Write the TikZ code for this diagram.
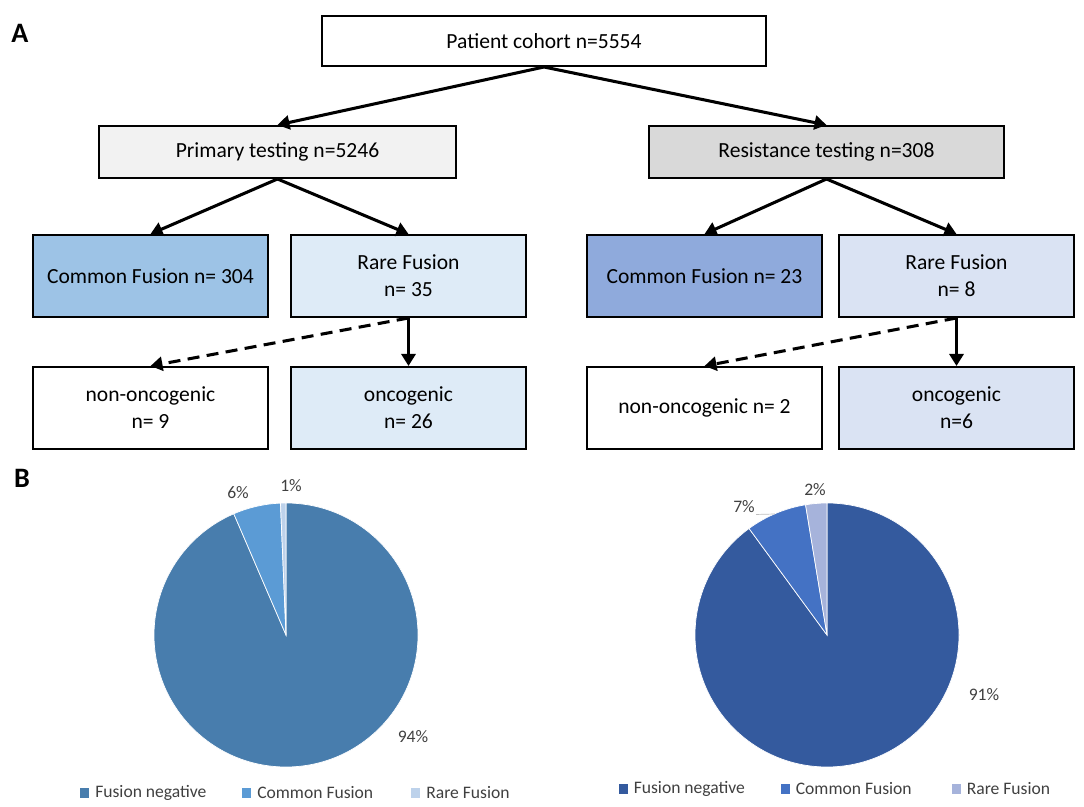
\documentclass[tikz,border=0pt]{standalone}
\usepackage{fontspec}
\setmainfont{Carlito}
\usepackage{xcolor}
\usetikzlibrary{arrows.meta}
\usetikzlibrary{positioning}

\definecolor{primfill}{HTML}{F2F2F2}
\definecolor{resfill}{HTML}{D9D9D9}
\definecolor{pcomfill}{HTML}{9DC3E6}
\definecolor{prarefill}{HTML}{DEEBF7}
\definecolor{rcomfill}{HTML}{8FAADC}
\definecolor{rrarefill}{HTML}{DAE3F3}
\definecolor{pneg}{HTML}{487DAD}
\definecolor{pcom}{HTML}{5B9BD5}
\definecolor{prare}{HTML}{BDD2EB}
\definecolor{rneg}{HTML}{345A9E}
\definecolor{rcom}{HTML}{4472C4}
\definecolor{rrare}{HTML}{A6B3DB}
\definecolor{charttext}{HTML}{404040}

\begin{document}
\begin{tikzpicture}[x=0.03cm,y=0.03cm,
          box/.style={draw=black,line width=1.7pt,align=center,inner sep=2pt,
            font=\fontsize{18.4}{23}\selectfont},
          small/.style={box,minimum width=7.05cm,minimum height=2.46cm},
          flow/.style={-{Triangle[length=0.36cm,width=0.42cm]},line width=2.6pt},
          weak/.style={flow,dash pattern=on 0.36cm off 0.22cm},
          panel/.style={font=\fontsize{24}{27}\selectfont\bfseries},
          pct/.style={text=charttext,inner sep=1pt,font=\fontsize{15}{17}\selectfont},
          key/.style={minimum size=0.27cm,inner sep=0pt},
          keytext/.style={text=charttext,inner sep=0pt,anchor=west,font=\fontsize{15}{17}\selectfont},
          slice/.style={draw=white,line width=0.6pt}]
  \useasboundingbox (0,0) rectangle (1084,806);

  % A: flow chart
  \node[panel] (lblA) at (20,773) {A};
  \node[box,minimum width=13.32cm,minimum height=1.5cm] (cohort) at (544,765) {Patient cohort n=5554};
  \node[box,fill=primfill,minimum width=10.71cm,minimum height=1.56cm] (primary) at (277.5,654) {Primary testing n=5246};
  \node[box,fill=resfill,minimum width=10.65cm,minimum height=1.56cm] (resist) at (826.5,654) {Resistance testing n=308};

  \node[small,fill=pcomfill] (pcommon) at (150.5,530) {Common Fusion n= 304};
  \node[small,fill=prarefill,right=0.63cm of pcommon] (prarefus) {Rare Fusion\\n= 35};
  \node[small,fill=rcomfill] (rcommon) at (704.5,530) {Common Fusion n= 23};
  \node[small,fill=rrarefill,right=0.45cm of rcommon] (rrarefus) {Rare Fusion\\n= 8};

  \node[small,below=1.44cm of pcommon] (pnononc) {non-oncogenic\\n= 9};
  \node[small,fill=prarefill,below=1.44cm of prarefus] (ponc) {oncogenic\\n= 26};
  \node[small,below=1.44cm of rcommon] (rnononc) {non-oncogenic n= 2};
  \node[small,fill=rrarefill,below=1.44cm of rrarefus] (ronc) {oncogenic\\n=6};

  \draw[flow] (cohort.south) -- (primary.north);
  \draw[flow] (cohort.south) -- (resist.north);
  \draw[flow] (primary.south) -- (pcommon.north);
  \draw[flow] (primary.south) -- (prarefus.north);
  \draw[flow] (resist.south) -- (rcommon.north);
  \draw[flow] (resist.south) -- (rrarefus.north);
  \draw[flow] (prarefus.south) -- (ponc.north);
  \draw[weak] (prarefus.south) -- (pnononc.north);
  \draw[flow] (rrarefus.south) -- (ronc.north);
  \draw[weak] (rrarefus.south) -- (rnononc.north);

  % B: pie charts
  \node[panel] (lblB) at (22,328) {B};

  \coordinate (ppie) at (286,171);
  \filldraw[slice,fill=pneg] (ppie) -- ++(90:132) arc[start angle=90,end angle=-246.7,radius=132] -- cycle;
  \filldraw[slice,fill=pcom] (ppie) -- ++(113.3:132) arc[start angle=113.3,end angle=92.4,radius=132] -- cycle;
  \filldraw[slice,fill=prare] (ppie) -- ++(92.4:132) arc[start angle=92.4,end angle=90,radius=132] -- cycle;
  \node[pct] (p6) at (238,313) {6\%};
  \node[pct] (p1) at (291,320) {1\%};
  \node[pct] (p94) at (413,69) {94\%};

  \coordinate (rpie) at (827,171);
  \filldraw[slice,fill=rneg] (rpie) -- ++(90:132) arc[start angle=90,end angle=-233.8,radius=132] -- cycle;
  \filldraw[slice,fill=rcom] (rpie) -- ++(126.2:132) arc[start angle=126.2,end angle=99.35,radius=132] -- cycle;
  \filldraw[slice,fill=rrare] (rpie) -- ++(99.35:132) arc[start angle=99.35,end angle=90,radius=132] -- cycle;
  \node[pct] (r7) at (744,299) {7\%};
  \node[pct] (r2) at (815,316) {2\%};
  \node[pct] (r91) at (984,111) {91\%};
  \coordinate (r7end) at (775,292);
  \draw[gray!50,line width=0.6pt] (r7.south east) -- (r7end);

  % legends
  \node[key,fill=pneg] (pk1) at (84.5,13) {};
  \node[keytext,right=5pt of pk1] (pt1) {Fusion negative};
  \node[key,fill=pcom] (pk2) at (246.5,13) {};
  \node[keytext,right=5pt of pk2] (pt2) {Common Fusion};
  \node[key,fill=prare] (pk3) at (415.5,13) {};
  \node[keytext,right=5pt of pk3] (pt3) {Rare Fusion};

  \node[key,fill=rneg] (rk1) at (623,17) {};
  \node[keytext,right=5pt of rk1] (rt1) {Fusion negative};
  \node[key,fill=rcom] (rk2) at (785,17) {};
  \node[keytext,right=5pt of rk2] (rt2) {Common Fusion};
  \node[key,fill=rrare] (rk3) at (956,17) {};
  \node[keytext,right=5pt of rk3] (rt3) {Rare Fusion};
\end{tikzpicture}
\end{document}
